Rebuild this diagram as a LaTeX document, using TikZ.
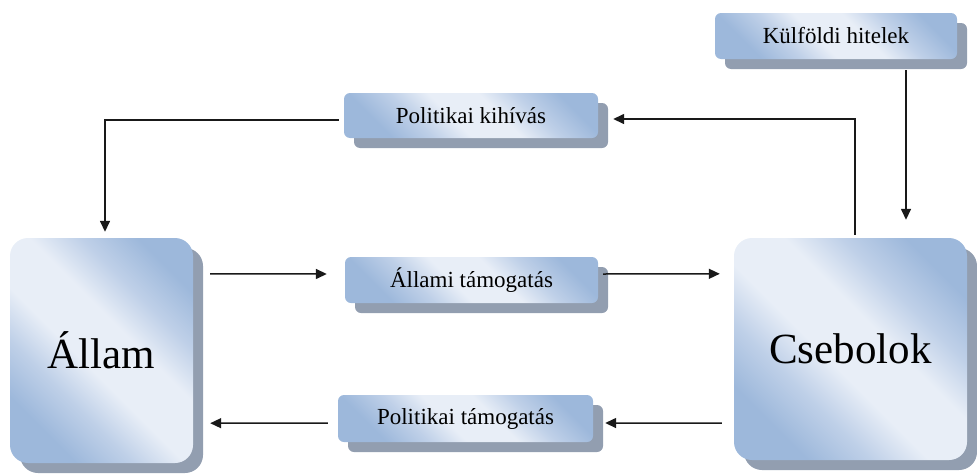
\documentclass[tikz,border=0pt]{standalone}
\usepackage{fontspec}
\setmainfont{Liberation Serif}
\usetikzlibrary{arrows.meta,shadows,calc}
\definecolor{boxdark}{HTML}{9DB8DB}
\definecolor{boxmid}{HTML}{BFD0E8}
\definecolor{boxlight}{HTML}{E8EEF7}
\definecolor{shadowgray}{HTML}{929EB0}
\pgfdeclarehorizontalshading{boxshade}{100bp}{%
  color(0bp)=(boxdark); color(26bp)=(boxdark); color(36bp)=(boxmid);
  color(45bp)=(boxlight); color(57bp)=(boxlight);
  color(66bp)=(boxmid); color(76bp)=(boxdark); color(100bp)=(boxdark)}
\tikzset{
  boxbase/.style={draw=none, inner sep=0pt,
    shading=boxshade, shading angle=45,
    drop shadow={shadow xshift=10pt, shadow yshift=-10pt, fill=shadowgray, opacity=1}},
  smallbox/.style={boxbase, rounded corners=6pt, minimum height=46pt,
    font=\fontsize{23}{27}\selectfont},
  bigbox/.style={boxbase, rounded corners=18pt,
    font=\fontsize{43}{50}\selectfont},
  arr/.style={draw=black!90, line width=1.5pt, -{Triangle[length=11pt,width=10pt]}}
}
\begin{document}
\begin{tikzpicture}[x=1pt,y=-1pt]
\useasboundingbox (0,0) rectangle (977,474);
\node[smallbox, minimum width=242pt] (kulf) at (836,36) {Külföldi hitelek};
\node[smallbox, minimum width=254pt, minimum height=45pt] (kihivas) at (471,115.5) {Politikai kihívás};
\node[bigbox, minimum width=183pt, minimum height=225pt] (allam) at (101.5,350.5) {Állam};
\node[bigbox, minimum width=233pt, minimum height=222pt] (cseb) at (850.5,349) {Csebolok};
\node[smallbox, minimum width=253pt] (allami) at (471.5,280) {Állami támogatás};
\node[smallbox, minimum width=255pt, minimum height=47pt] (poltam) at (465.5,418.5) {Politikai támogatás};

\draw[arr] ($(kihivas.west)+(-5,4.5)$) -| ($(allam.north)+(3.5,-6)$);
\draw[arr] ($(cseb.north)+(4.5,-3)$) |- ($(kihivas.east)+(15,3.5)$);
\draw[arr] ($(kulf.south)+(70,11)$) -- ($(cseb.north)+(55.5,-18)$);
\draw[arr] ($(allam.north east)+(17,36)$) -- ($(allami.west)+(-18,-6)$);
\draw[arr] ($(allami.east)+(5,-6)$) -- ($(cseb.north west)+(-14,36)$);
\draw[arr] ($(cseb.south west)+(-12,-37)$) -- ($(poltam.east)+(12,4.5)$);
\draw[arr] ($(poltam.west)+(-10,4.5)$) -- ($(allam.south east)+(17,-40)$);
\end{tikzpicture}
\end{document}
